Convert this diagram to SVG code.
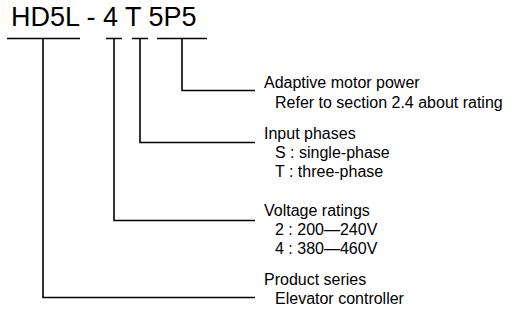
<svg xmlns="http://www.w3.org/2000/svg" width="511" height="321" viewBox="0 0 511 321">
<style>
.t{font-family:"Liberation Sans",Arial,sans-serif;fill:#000}
.title{font-size:27px}
.lab{font-size:16px}
.c{fill:none;stroke:#000;stroke-width:1.6}
</style>
<rect width="511" height="321" fill="#fff"/>
<g id="title"><text class="t title" x="11" y="26">HD5L - 4 T 5P5</text></g>
<g id="connectors">
<path class="c" d="M7 38.5H80M106 38.5H122M132 38.5H148M157 38.5H207"/>
<path class="c" d="M182 38.5V90.5H255"/>
<path class="c" d="M140 38.5V142.5H255"/>
<path class="c" d="M114 38.5V220.5H255"/>
<path class="c" d="M43 38.5V297.5H255"/>
</g>
<g id="power"><text class="t lab" x="264" y="88">Adaptive motor power</text><text class="t lab" x="275" y="108">Refer to section 2.4 about rating</text></g>
<g id="phases"><text class="t lab" x="264" y="139">Input phases</text><text class="t lab" x="275" y="158">S : single-phase</text><text class="t lab" x="275" y="177">T : three-phase</text></g>
<g id="voltage"><text class="t lab" x="264" y="216">Voltage ratings</text><text class="t lab" x="275" y="235">2 : 200—240V</text><text class="t lab" x="275" y="254">4 : 380—460V</text></g>
<g id="series"><text class="t lab" x="264" y="285">Product series</text><text class="t lab" x="275" y="304">Elevator controller</text></g>
</svg>
